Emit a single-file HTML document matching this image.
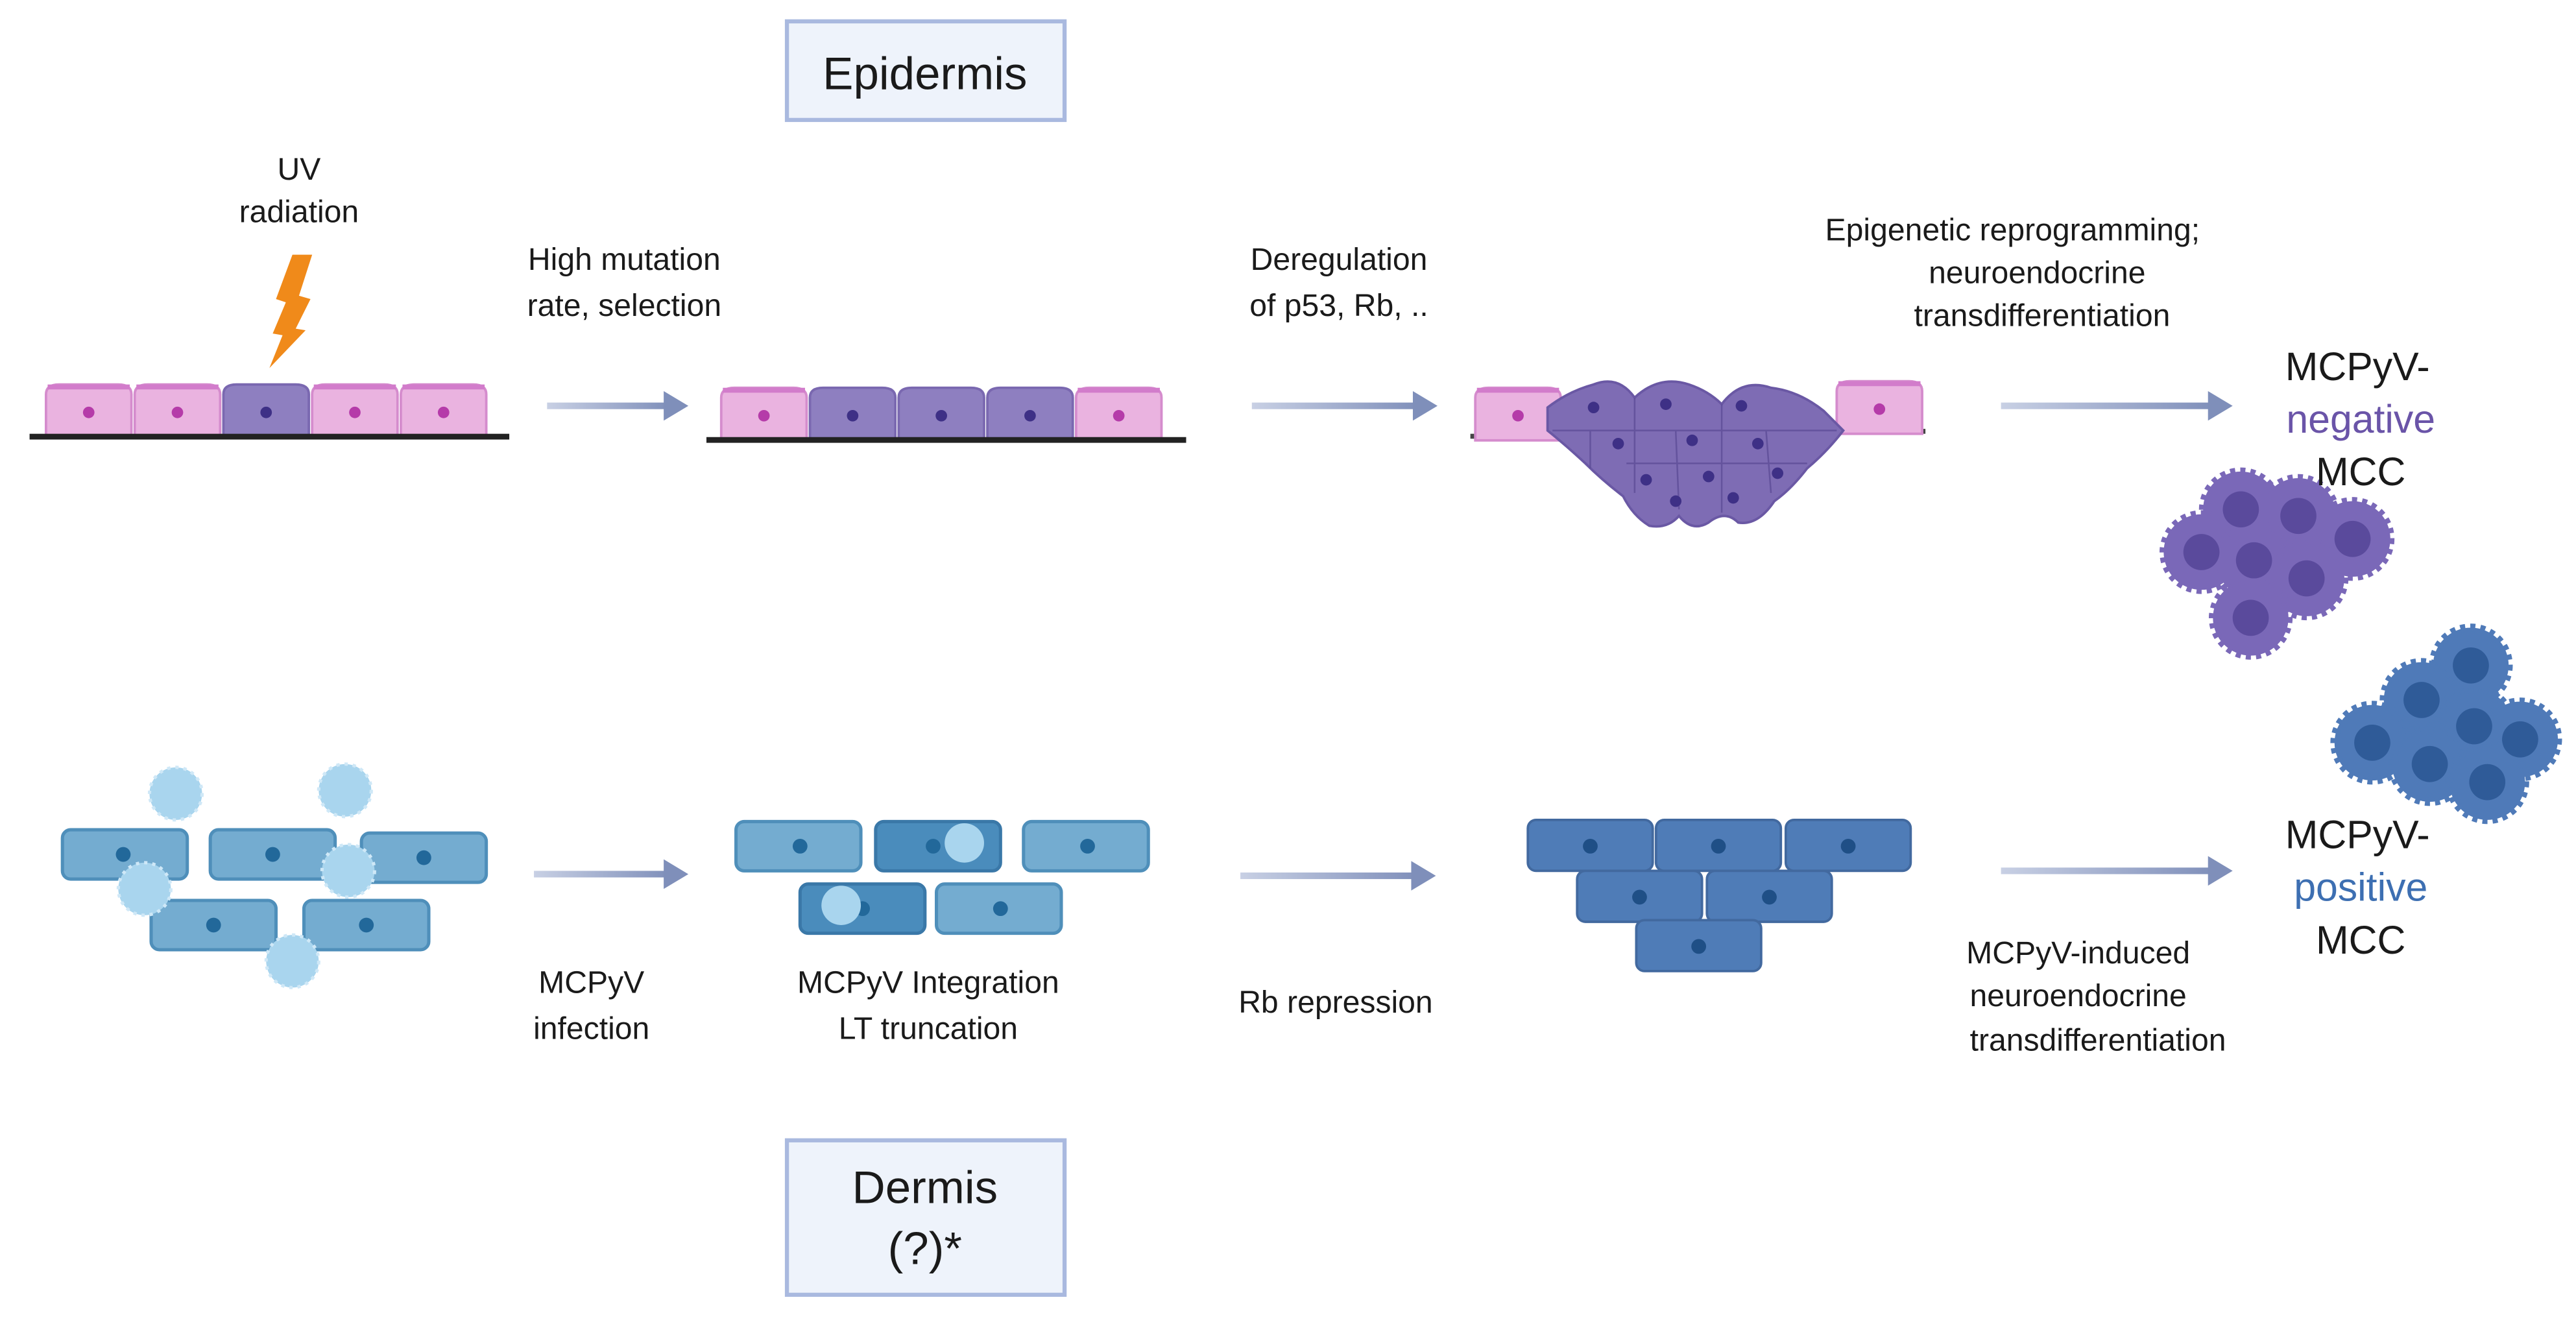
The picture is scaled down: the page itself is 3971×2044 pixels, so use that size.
<!DOCTYPE html>
<html><head><meta charset="utf-8"><style>
html,body{margin:0;padding:0;background:#fff;}
svg{display:block;}
text{font-family:"Liberation Sans",sans-serif;fill:#1a1a1a;}
</style></head><body>
<svg width="3971" height="2044" viewBox="0 0 1568 807" preserveAspectRatio="none" xmlns="http://www.w3.org/2000/svg">
<defs>
<linearGradient id="ag" x1="0" x2="1" y1="0" y2="0"><stop offset="0" stop-color="#c8d0e4"/><stop offset="1" stop-color="#7f8fba"/></linearGradient>
<g id="pk"><path d="M0,32 L0,6 Q0,0 8,0 L44,0 Q52,0 52,6 L52,32 Z" fill="#eab3e0" stroke="#d58ccd" stroke-width="1.5"/><rect x="1" y="0" width="50" height="3" fill="#d27ccb"/><circle cx="26" cy="17" r="3.5" fill="#b53ba9"/></g>
<g id="pu"><path d="M0,32 L0,6 Q0,0 8,0 L44,0 Q52,0 52,6 L52,32 Z" fill="#8e7fc0" stroke="#7a68b0" stroke-width="1.5"/><circle cx="26" cy="17" r="3.5" fill="#3e3086"/></g>
<g id="lb"><rect x="0" y="0" width="76" height="30" rx="5" fill="#74acd0" stroke="#4f8fba" stroke-width="2"/></g>
<g id="mb"><rect x="0" y="0" width="76" height="30" rx="5" fill="#4a8cbc" stroke="#3a78a8" stroke-width="2"/></g>
<g id="db"><rect x="0" y="0" width="76" height="31" rx="5" fill="#4f7cb7" stroke="#42699f" stroke-width="1.5"/></g>
<g id="vir"><circle r="16" fill="#a9d5ee"/><circle r="16" fill="none" stroke="#cfe8f7" stroke-width="2" stroke-dasharray="2 3"/></g>
<g id="spp"><circle r="23" fill="#7a68b8" stroke="#7a68b8" stroke-width="5" stroke-dasharray="3 3"/></g>
<g id="spb"><circle r="23" fill="#4f7ab8" stroke="#4f7ab8" stroke-width="5" stroke-dasharray="3 3"/></g>
</defs>

<rect x="479" y="13" width="169" height="60" fill="#eef3fb" stroke="#a9b9df" stroke-width="2.5"/>
<text x="563" y="45" font-size="28" text-anchor="middle" dominant-baseline="central">Epidermis</text>
<rect x="479" y="694" width="169" height="94" fill="#eef3fb" stroke="#a9b9df" stroke-width="2.5"/>
<text x="563" y="723" font-size="28" text-anchor="middle" dominant-baseline="central">Dermis</text>
<text x="563" y="760" font-size="28" text-anchor="middle" dominant-baseline="central">(?)*</text>

<g font-size="19" text-anchor="middle">
<text x="182" y="103" dominant-baseline="central">UV</text>
<text x="182" y="129" dominant-baseline="central">radiation</text>
<text x="380" y="158" dominant-baseline="central">High mutation</text>
<text x="380" y="186" dominant-baseline="central">rate, selection</text>
<text x="815" y="158" dominant-baseline="central">Deregulation</text>
<text x="815" y="186" dominant-baseline="central">of p53, Rb, ..</text>
<text x="1225" y="140" dominant-baseline="central">Epigenetic reprogramming;</text>
<text x="1240" y="166" dominant-baseline="central">neuroendocrine</text>
<text x="1243" y="192" dominant-baseline="central">transdifferentiation</text>
<text x="360" y="598" dominant-baseline="central">MCPyV</text>
<text x="360" y="626" dominant-baseline="central">infection</text>
<text x="565" y="598" dominant-baseline="central">MCPyV Integration</text>
<text x="565" y="626" dominant-baseline="central">LT truncation</text>
<text x="813" y="610" dominant-baseline="central">Rb repression</text>
<text x="1265" y="580" dominant-baseline="central">MCPyV-induced</text>
<text x="1265" y="606" dominant-baseline="central">neuroendocrine</text>
<text x="1277" y="633" dominant-baseline="central">transdifferentiation</text>
</g>

<g>
<rect x="333" y="245" width="75" height="4" fill="url(#ag)"/><polygon points="404,238 419,247 404,256" fill="#7f8fba"/>
<rect x="762" y="245" width="102" height="4" fill="url(#ag)"/><polygon points="860,238 875,247 860,256" fill="#7f8fba"/>
<rect x="1218" y="245" width="130" height="4" fill="url(#ag)"/><polygon points="1344,238 1359,247 1344,256" fill="#7f8fba"/>
<rect x="325" y="530" width="83" height="4" fill="url(#ag)"/><polygon points="404,523 419,532 404,541" fill="#7f8fba"/>
<rect x="755" y="531" width="108" height="4" fill="url(#ag)"/><polygon points="859,524 874,533 859,542" fill="#7f8fba"/>
<rect x="1218" y="528" width="130" height="4" fill="url(#ag)"/><polygon points="1344,521 1359,530 1344,539" fill="#7f8fba"/>
</g>

<polygon points="178,155 190,155 182,180 189,182 180,200 186,201 164,224 172,204 166,203 174,184 168,182" fill="#f08a1a"/>

<use href="#pk" x="28" y="234"/><use href="#pk" x="82" y="234"/><use href="#pu" x="136" y="234"/><use href="#pk" x="190" y="234"/><use href="#pk" x="244" y="234"/>
<rect x="18" y="264" width="292" height="3.5" fill="#222"/>
<use href="#pk" x="439" y="236"/><use href="#pu" x="493" y="236"/><use href="#pu" x="547" y="236"/><use href="#pu" x="601" y="236"/><use href="#pk" x="655" y="236"/>
<rect x="430" y="266" width="292" height="3.5" fill="#222"/>

<rect x="895" y="264" width="50" height="3" fill="#444"/><rect x="1118" y="261" width="54" height="3" fill="#444"/>
<use href="#pk" x="898" y="236"/>
<use href="#pk" x="1118" y="232"/>
<path d="M942,248 Q955,238 970,234 Q985,228 995,242 Q1010,228 1028,234 Q1040,238 1048,246 Q1060,230 1078,236 Q1095,238 1110,250 L1122,262 Q1112,275 1100,285 Q1090,298 1080,305 Q1070,320 1058,318 Q1050,310 1040,318 Q1030,324 1022,314 Q1015,322 1004,320 Q994,314 988,302 Q975,292 965,282 Q952,270 942,262 Z" fill="#7e6cb4" stroke="#6a58a4" stroke-width="1.5"/>
<g stroke="#5e4e98" stroke-width="1" fill="none" opacity="0.8">
<path d="M945,262 L1118,262"/><path d="M968,262 L968,285"/><path d="M995,242 L995,300"/><path d="M1048,246 L1048,312"/><path d="M1020,262 L1022,310"/><path d="M1075,262 L1078,300"/><path d="M990,282 L1100,282"/>
</g>
<g fill="#3e3086"><circle cx="970" cy="248" r="3.5"/><circle cx="1014" cy="246" r="3.5"/><circle cx="1060" cy="247" r="3.5"/><circle cx="985" cy="270" r="3.5"/><circle cx="1030" cy="268" r="3.5"/><circle cx="1070" cy="270" r="3.5"/><circle cx="1002" cy="292" r="3.5"/><circle cx="1040" cy="290" r="3.5"/><circle cx="1082" cy="288" r="3.5"/><circle cx="1020" cy="305" r="3.5"/><circle cx="1055" cy="303" r="3.5"/></g>

<g>
<use href="#spp" x="1364" y="310"/><use href="#spp" x="1399" y="314"/><use href="#spp" x="1432" y="328"/><use href="#spp" x="1340" y="336"/><use href="#spp" x="1372" y="341"/><use href="#spp" x="1404" y="352"/><use href="#spp" x="1370" y="376"/>
</g>
<g fill="#5a4a9c"><circle cx="1364" cy="310" r="11"/><circle cx="1399" cy="314" r="11"/><circle cx="1432" cy="328" r="11"/><circle cx="1340" cy="336" r="11"/><circle cx="1372" cy="341" r="11"/><circle cx="1404" cy="352" r="11"/><circle cx="1370" cy="376" r="11"/></g>

<g>
<use href="#spb" x="1504" y="405"/><use href="#spb" x="1474" y="426"/><use href="#spb" x="1506" y="442"/><use href="#spb" x="1444" y="452"/><use href="#spb" x="1534" y="450"/><use href="#spb" x="1479" y="465"/><use href="#spb" x="1514" y="476"/>
</g>
<g fill="#2f5b98"><circle cx="1504" cy="405" r="11"/><circle cx="1474" cy="426" r="11"/><circle cx="1506" cy="442" r="11"/><circle cx="1444" cy="452" r="11"/><circle cx="1534" cy="450" r="11"/><circle cx="1479" cy="465" r="11"/><circle cx="1514" cy="476" r="11"/></g>

<g font-size="24" text-anchor="middle">
<text x="1435" y="223" dominant-baseline="central">MCPyV-</text>
<text x="1437" y="255" dominant-baseline="central" style="fill:#6a54a8">negative</text>
<text x="1437" y="287" dominant-baseline="central">MCC</text>
<text x="1435" y="508" dominant-baseline="central">MCPyV-</text>
<text x="1437" y="540" dominant-baseline="central" style="fill:#3d6fb2">positive</text>
<text x="1437" y="572" dominant-baseline="central">MCC</text>
</g>

<use href="#vir" x="107" y="483"/><use href="#vir" x="210" y="481"/>
<use href="#lb" x="38" y="505"/><use href="#lb" x="128" y="505"/><use href="#lb" x="220" y="507"/>
<use href="#lb" x="92" y="548"/><use href="#lb" x="185" y="548"/>
<g fill="#22689a"><circle cx="75" cy="520" r="4.5"/><circle cx="166" cy="520" r="4.5"/><circle cx="258" cy="522" r="4.5"/><circle cx="130" cy="563" r="4.5"/><circle cx="223" cy="563" r="4.5"/></g>
<use href="#vir" x="88" y="541"/><use href="#vir" x="212" y="530"/><use href="#vir" x="178" y="585"/>

<use href="#lb" x="448" y="500"/><use href="#mb" x="533" y="500"/><use href="#lb" x="623" y="500"/>
<use href="#mb" x="487" y="538"/><use href="#lb" x="570" y="538"/>
<g fill="#22689a"><circle cx="487" cy="515" r="4.5"/><circle cx="568" cy="515" r="4.5"/><circle cx="662" cy="515" r="4.5"/><circle cx="525" cy="553" r="4.5"/><circle cx="609" cy="553" r="4.5"/></g>
<circle cx="587" cy="513" r="12" fill="#a9d5ee"/><circle cx="512" cy="551" r="12" fill="#a9d5ee"/>

<use href="#db" x="930" y="499"/><use href="#db" x="1008" y="499"/><use href="#db" x="1087" y="499"/>
<use href="#db" x="960" y="530"/><use href="#db" x="1039" y="530"/><use href="#db" x="996" y="560"/>
<g fill="#1f4f86"><circle cx="968" cy="515" r="4.5"/><circle cx="1046" cy="515" r="4.5"/><circle cx="1125" cy="515" r="4.5"/><circle cx="998" cy="546" r="4.5"/><circle cx="1077" cy="546" r="4.5"/><circle cx="1034" cy="576" r="4.5"/></g>
</svg>
</body></html>
